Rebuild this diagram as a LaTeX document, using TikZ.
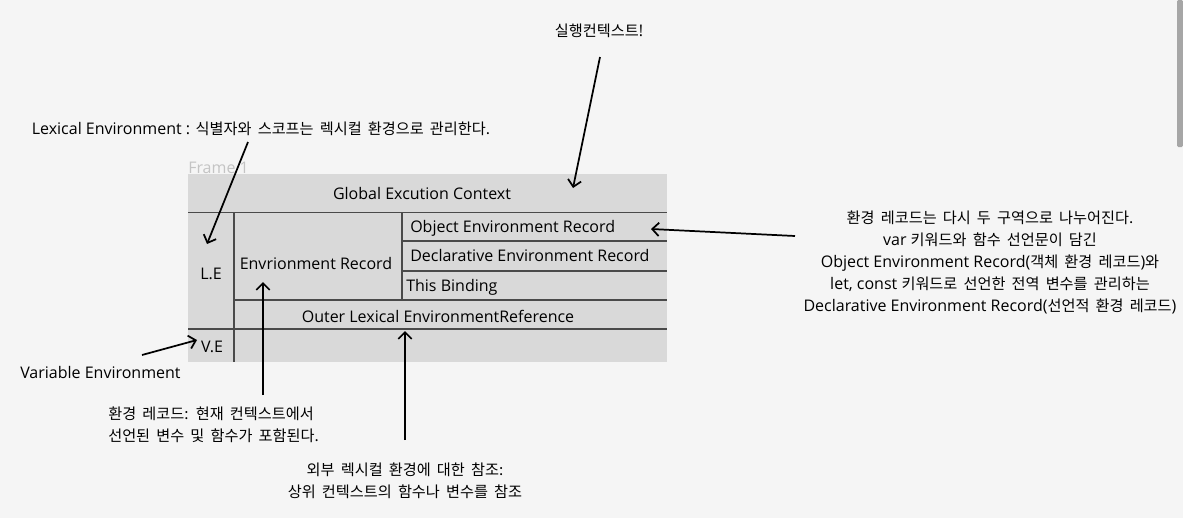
\documentclass[tikz,border=0pt]{standalone}
\usepackage{fontspec}
\setmainfont{Open Sans}
\newfontfamily\kr[Scale=0.95,WordSpace=1.8]{Noto Sans CJK KR}
\usetikzlibrary{arrows.meta,positioning}
\definecolor{bgcol}{HTML}{F5F5F5}
\definecolor{framecol}{HTML}{D9D9D9}
\definecolor{rulecol}{HTML}{4A4A4A}
\definecolor{framelabel}{HTML}{C4C4C4}
\definecolor{barcol}{HTML}{A6A6A6}

\begin{document}
\begin{tikzpicture}[x=0.75pt,y=-0.75pt,font=\fontsize{12}{14}\selectfont,>={Straight Barb[length=5pt,width=10pt]}]
 \tikzstyle{cell}=[inner sep=0pt, text=black]
 \tikzstyle{note}=[inner sep=0pt, align=center, text=black, font=\fontsize{12}{16.5}\selectfont]
 \tikzstyle{pointer}=[->, line width=1.3pt, black]
 \tikzstyle{rule}=[draw=rulecol, line width=0.8pt]
 \fill[bgcol] (0,0) rectangle (1183,518);
 \useasboundingbox (0,0) rectangle (1183,518);
 \fill[barcol, rounded corners=1pt] (1177,0) rectangle (1183,147);
 % frame
 \node[anchor=base west, inner sep=0pt, text=framelabel] (frame) at (188,173) {Frame 1};
 \fill[framecol] (188,174) rectangle (667,362);
 \draw[rule] (188,212.5) -- (667,212.5);
 \draw[rule] (234,212.5) -- (234,362);
 \draw[rule] (402,212.5) -- (402,300);
 \draw[rule] (402,241) -- (667,241);
 \draw[rule] (402,271) -- (667,271);
 \draw[rule] (234,300) -- (667,300);
 \draw[rule] (188,329) -- (667,329);
 \node[cell] (gec) at (422,193) {Global Excution Context};
 \node[cell] (le) at (211,274) {L.E};
 \node[cell] (er) at (316,263) {Envrionment Record};
 \node[cell, anchor=west] (oer) at (410,228) {Object Environment Record};
 \node[cell, anchor=west] (der) at (410,255) {Declarative Environment Record};
 \node[cell, anchor=west] (tb) at (406,287) {This Binding};
 \node[cell] (oler) at (438,316) {Outer Lexical EnvironmentReference};
 \node[cell] (ve) at (212,347) {V.E};
 % notes
 \node[note] (ctxnote) at (599,31) {{\kr 실행컨텍스트}!};
 \node[note] (lenote) at (261,129) {Lexical Environment : {\kr 식별자와 스코프는 렉시컬 환경으로 관리한다.}};
 \node[note] (recnote) at (990,262) {{\kr 환경 레코드는 다시 두 구역으로 나누어진다.}\\var {\kr 키워드와 함수 선언문이 담긴}\\Object Environment Record({\kr 객체 환경 레코드}){\kr 와}\\let, const {\kr 키워드로 선언한 전역 변수를 관리하는}\\Declarative Environment Record({\kr 선언적 환경 레코드})};
 \node[note, anchor=west] (venote) at (20,372) {Variable Environment};
 \node[note, align=left, anchor=west] (ernote) at (108,425) {\kr 환경 레코드: 현재 컨텍스트에서\\\kr 선언된 변수 및 함수가 포함된다.};
 \node[note] (olnote) at (405,481) {\kr 외부 렉시컬 환경에 대한 참조:\\\kr 상위 컨텍스트의 함수나 변수를 참조};
 % arrow ends
 \coordinate (ctxfrom) at (600,57);
 \coordinate (ctxto) at (573,188);
 \coordinate (lefrom) at (248,142);
 \coordinate (leto) at (207,244);
 \coordinate (recfrom) at (795,236);
 \coordinate (recto) at (651,229);
 \coordinate (vefrom) at (142,355);
 \coordinate (veto) at (197,340);
 \coordinate (erfrom) at (263,395);
 \coordinate (erto) at (263,282);
 \coordinate (olfrom) at (405,440);
 \coordinate (olto) at (405,331);
 \path[pointer]
  (ctxfrom) edge (ctxto)
  (lefrom) edge (leto)
  (recfrom) edge (recto)
  (vefrom) edge (veto)
  (erfrom) edge (erto)
  (olfrom) edge (olto);
\end{tikzpicture}
\end{document}
